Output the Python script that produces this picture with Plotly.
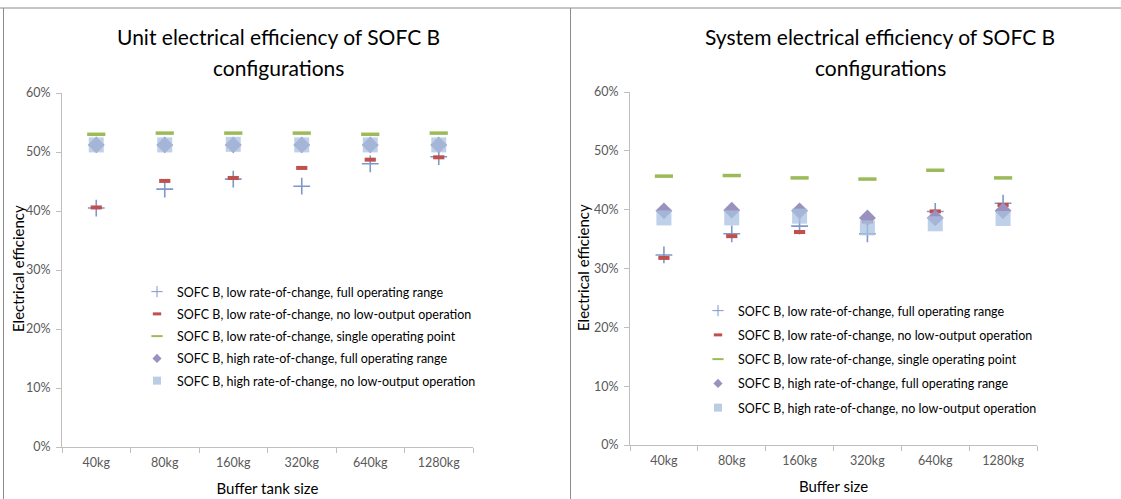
import plotly.graph_objects as go

categories = ["40kg", "80kg", "160kg", "320kg", "640kg", "1280kg"]

series_names = [
    "SOFC B, low rate-of-change, full operating range",
    "SOFC B, low rate-of-change, no low-output operation",
    "SOFC B, low rate-of-change, single operating point",
    "SOFC B, high rate-of-change, full operating range",
    "SOFC B, high rate-of-change, no low-output operation",
]

# Unit electrical efficiency (left chart)
unit_low_full = [0.405, 0.437, 0.454, 0.442, 0.480, 0.492]
unit_low_nolow = [0.406, 0.451, 0.456, 0.473, 0.487, 0.491]
unit_low_single = [0.530, 0.532, 0.532, 0.532, 0.530, 0.532]
unit_high_full = [0.512, 0.512, 0.512, 0.512, 0.512, 0.512]
unit_high_nolow = [0.512, 0.512, 0.513, 0.512, 0.512, 0.512]

# System electrical efficiency (right chart)
sys_low_full = [0.323, 0.359, 0.372, 0.359, 0.397, 0.411]
sys_low_nolow = [0.318, 0.355, 0.362, 0.380, 0.397, 0.408]
sys_low_single = [0.457, 0.458, 0.454, 0.452, 0.467, 0.454]
sys_high_full = [0.398, 0.399, 0.398, 0.386, 0.386, 0.398]
sys_high_nolow = [0.386, 0.386, 0.389, 0.369, 0.376, 0.385]

y_ticks = [0, 0.1, 0.2, 0.3, 0.4, 0.5, 0.6]

FONT = "Lato, Liberation Sans, sans-serif"
GREY_TXT = "#595959"
AXIS = "#bfbfbf"

styles = [
    dict(symbol="cross-thin-open", size=12, color="#7f98c9", line=dict(width=1.6, color="#7f98c9")),
    dict(symbol="line-ew-open", size=8, color="#c0504d", line=dict(width=4, color="#c0504d")),
    dict(symbol="line-ew-open", size=13, color="#9bbb59", line=dict(width=3.5, color="#9bbb59")),
    dict(symbol="diamond", size=13, color="#9b91bf", line=dict(width=0)),
    dict(symbol="square", size=15, color="rgba(168,193,224,0.75)", line=dict(width=0)),
]
legend_styles = [
    dict(symbol="cross-thin-open", size=8, color="#7f98c9", line=dict(width=1, color="#7f98c9")),
    dict(symbol="line-ew-open", size=6, color="#c0504d", line=dict(width=3, color="#c0504d")),
    dict(symbol="line-ew-open", size=8, color="#9bbb59", line=dict(width=2, color="#9bbb59")),
    dict(symbol="diamond", size=7, color="#9b91bf", line=dict(width=0)),
    dict(symbol="square", size=8, color="#b9cde5", line=dict(width=0)),
]

fig = go.Figure()

left = [unit_low_full, unit_low_nolow, unit_low_single, unit_high_full, unit_high_nolow]
right = [sys_low_full, sys_low_nolow, sys_low_single, sys_high_full, sys_high_nolow]

for side, data, xa, ya, leg in (("L", left, "x", "y", "legend"), ("R", right, "x2", "y2", "legend2")):
    for i, (name, vals) in enumerate(zip(series_names, data)):
        fig.add_trace(go.Scatter(x=categories, y=vals, mode="markers", name=name,
                                 marker=styles[i], xaxis=xa, yaxis=ya,
                                 showlegend=False, legendgroup=side + str(i)))
        # legend entry with the small legend glyph
        fig.add_trace(go.Scatter(x=[None], y=[None], mode="markers", name=name,
                                 marker=legend_styles[i], xaxis=xa, yaxis=ya,
                                 legend=leg, legendgroup=side + str(i)))

W, H = 1121, 499

def px_x(p):
    return p / W

def px_y(p):
    return 1 - p / H

xaxis_common = dict(type="category", categoryorder="array", categoryarray=categories,
                    range=[-0.5, 5.5], showline=True, linecolor=AXIS, linewidth=1,
                    ticks="outside", tickson="boundaries", ticklen=5, tickcolor=AXIS,
                    showgrid=False, zeroline=False, automargin=False,
                    ticklabelstandoff=4,
                    tickfont=dict(family=FONT, size=12.5, color=GREY_TXT),
                    title_font=dict(family=FONT, size=15, color="#000000"),
                    title_standoff=14)
yaxis_common = dict(range=[0, 0.6], tickvals=y_ticks, tickformat=".0%",
                    showline=True, linecolor=AXIS, linewidth=1,
                    ticks="outside", ticklen=5, tickcolor=AXIS,
                    showgrid=False, zeroline=False, automargin=False,
                    ticklabelstandoff=3,
                    tickfont=dict(family=FONT, size=12.5, color=GREY_TXT))

legend_common = dict(font=dict(family=FONT, size=12.5, color="#000000"),
                     bgcolor="rgba(255,255,255,0)",
                     itemsizing="trace", itemwidth=30,
                     xanchor="left", yanchor="top")

def title_ann(text, xc, yc):
    return dict(text=text, x=px_x(xc), y=px_y(yc), xref="paper", yref="paper",
                showarrow=False, font=dict(family=FONT, size=21, color="#000000"),
                xanchor="center", yanchor="middle")

def ytitle_ann(xc, yc):
    return dict(text="Electrical efficiency", x=px_x(xc), y=px_y(yc),
                xref="paper", yref="paper", showarrow=False, textangle=-90,
                font=dict(family=FONT, size=15, color="#000000"),
                xanchor="center", yanchor="middle")

fig.update_layout(
    width=W, height=H,
    margin=dict(l=0, r=0, t=0, b=0, autoexpand=False),
    paper_bgcolor="white", plot_bgcolor="white",
    showlegend=True,
    xaxis=dict(domain=[px_x(62), px_x(473)], anchor="y",
               title_text="Buffer tank size", **xaxis_common),
    yaxis=dict(domain=[px_y(447), px_y(93)], anchor="x", **yaxis_common),
    xaxis2=dict(domain=[px_x(630), px_x(1037)], anchor="y2",
                title_text="Buffer size", **xaxis_common),
    yaxis2=dict(domain=[px_y(445), px_y(92)], anchor="x2", **yaxis_common),
    legend=dict(x=px_x(137), y=px_y(277), tracegroupgap=3, **legend_common),
    legend2=dict(x=px_x(698), y=px_y(296), tracegroupgap=5, **legend_common),
    annotations=[
        title_ann("Unit electrical efficiency of SOFC B", 278, 37),
        title_ann("configurations", 278, 67),
        title_ann("System electrical efficiency of SOFC B", 880, 37),
        title_ann("configurations", 880, 67),
        ytitle_ann(18, 269),
        ytitle_ann(583, 268),
    ],
    shapes=[
        dict(type="line", xref="paper", yref="paper", x0=0, x1=1,
             y0=px_y(8), y1=px_y(8), line=dict(color="#8c8c8c", width=1)),
        dict(type="line", xref="paper", yref="paper", x0=px_x(3.5), x1=px_x(3.5),
             y0=px_y(8), y1=0, line=dict(color="#8c8c8c", width=1)),
        dict(type="line", xref="paper", yref="paper", x0=px_x(570.5), x1=px_x(570.5),
             y0=px_y(8), y1=0, line=dict(color="#8c8c8c", width=1)),
    ],
)

fig.write_html("out.html", config={"displayModeBar": False},
               post_script="document.body.style.margin='0';document.body.style.overflow='hidden';")
